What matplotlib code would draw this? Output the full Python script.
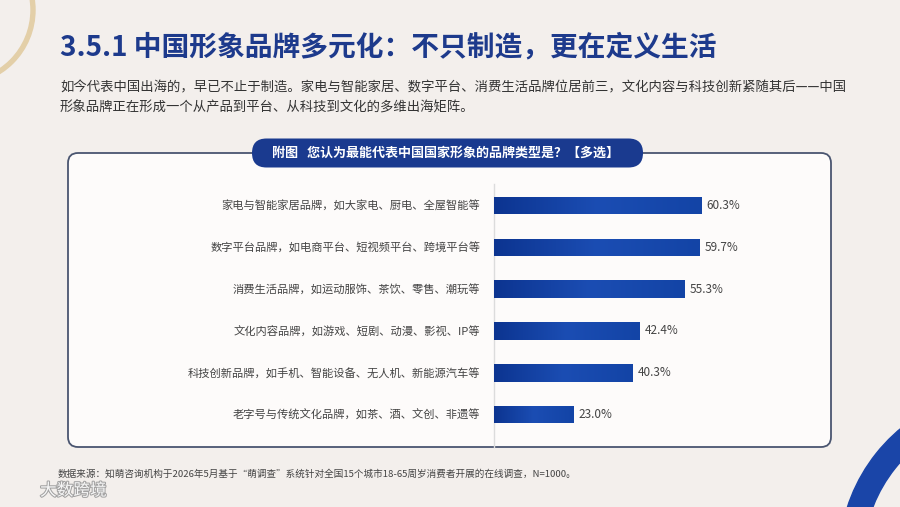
import numpy as np
import matplotlib.pyplot as plt
import matplotlib.patheffects as pe
from matplotlib.patches import FancyBboxPatch, Wedge
from matplotlib.colors import LinearSegmentedColormap

plt.rcParams['font.family'] = ['Noto Sans CJK SC', 'DejaVu Sans']

# 数据
categories = [
    "家电与智能家居品牌，如大家电、厨电、全屋智能等",
    "数字平台品牌，如电商平台、短视频平台、跨境平台等",
    "消费生活品牌，如运动服饰、茶饮、零售、潮玩等",
    "文化内容品牌，如游戏、短剧、动漫、影视、IP等",
    "科技创新品牌，如手机、智能设备、无人机、新能源汽车等",
    "老字号与传统文化品牌，如茶、酒、文创、非遗等",
]
values = [60.3, 59.7, 55.3, 42.4, 40.3, 23.0]

title = "3.5.1 中国形象品牌多元化：不只制造，更在定义生活"
intro = ["如今代表中国出海的，早已不止于制造。家电与智能家居、数字平台、消费生活品牌位居前三，文化内容与科技创新紧随其后——中国",
         "形象品牌正在形成一个从产品到平台、从科技到文化的多维出海矩阵。"]
chart_title = "附图   您认为最能代表中国国家形象的品牌类型是？【多选】"
source = "数据来源：知萌咨询机构于2026年5月基于\u201c萌调查\u201d系统针对全国15个城市18-65周岁消费者开展的在线调查，N=1000。"

W, H = 900, 507
fig = plt.figure(figsize=(W / 100, H / 100), dpi=100)
fig.patch.set_facecolor("#f3efec")

# 背景层（像素坐标）
bg = fig.add_axes([0, 0, 1, 1])
bg.set_xlim(0, W)
bg.set_ylim(H, 0)
bg.axis("off")

# 装饰弧线
bg.add_patch(Wedge((-40, 10), 75, 270, 90, width=4, color="#e3cfa8", zorder=1))
bg.add_patch(Wedge((1010, 560), 171, 185, 252, width=24, color="#1a45a8", zorder=1))

# 标题与导语
bg.text(60, 47, title, fontsize=20, fontweight="bold", color="#1d3a8c", va="center", ha="left")
bg.text(60, 87, intro[0], fontsize=9.6, color="#333333", va="center", ha="left")
bg.text(60, 108, intro[1], fontsize=9.6, color="#333333", va="center", ha="left")

# 面板
panel = FancyBboxPatch((68, 153), 763, 294, boxstyle="round,pad=0,rounding_size=10",
                       facecolor="#fdfbfa", edgecolor="#4a5570", linewidth=1.3, zorder=2)
bg.add_patch(panel)
pill = FancyBboxPatch((252, 138.5), 391, 29, boxstyle="round,pad=0,rounding_size=14.5",
                      facecolor="#1a3a8f", edgecolor="none", zorder=3)
bg.add_patch(pill)
bg.text(446, 153, chart_title, fontsize=9.4, fontweight="bold", color="white",
        va="center", ha="center", zorder=4)
bg.plot([494, 494], [184, 447], color="#dcdcdc", linewidth=1, zorder=3)

bg.text(58, 474, source, fontsize=6.9, color="#444444", va="center", ha="left")
bg.text(40, 491, "大数跨境", fontsize=12, color="white", va="center", ha="left", alpha=0.9,
        path_effects=[pe.withStroke(linewidth=1.5, foreground="#9a9a9a")])

# 条形图
ax = fig.add_axes([494 / W, 1 - 435.5 / H, 344 / W, 250.8 / H])
ax.set_facecolor("none")
y = np.arange(len(categories))
bars = ax.barh(y, values, height=0.42, color="#143f9f", zorder=3)

cmap = LinearSegmentedColormap.from_list("bar", ["#0c3490", "#1b4db3", "#1344a6"])
grad = np.linspace(0, 1, 256).reshape(1, -1)
for b in bars:
    x0, y0 = b.get_x(), b.get_y()
    im = ax.imshow(grad, cmap=cmap, aspect="auto", zorder=4,
                   extent=[x0, x0 + b.get_width(), y0 + b.get_height(), y0])
    im.set_clip_path(b)
ax.set_xlim(0, 100)
ax.set_ylim(len(categories) - 0.5, -0.5)

for i, v in enumerate(values):
    ax.text(v + 1.5, i, f"{v:.1f}%", va="center", ha="left", fontsize=8.5, color="#444444")

ax.set_yticks(y)
ax.set_yticklabels(categories, fontsize=8.1, color="#444444")
ax.tick_params(axis="y", length=0, pad=10)
ax.set_xticks([])
for s in ax.spines.values():
    s.set_visible(False)

fig.savefig("out.png", dpi=100, facecolor=fig.get_facecolor())
